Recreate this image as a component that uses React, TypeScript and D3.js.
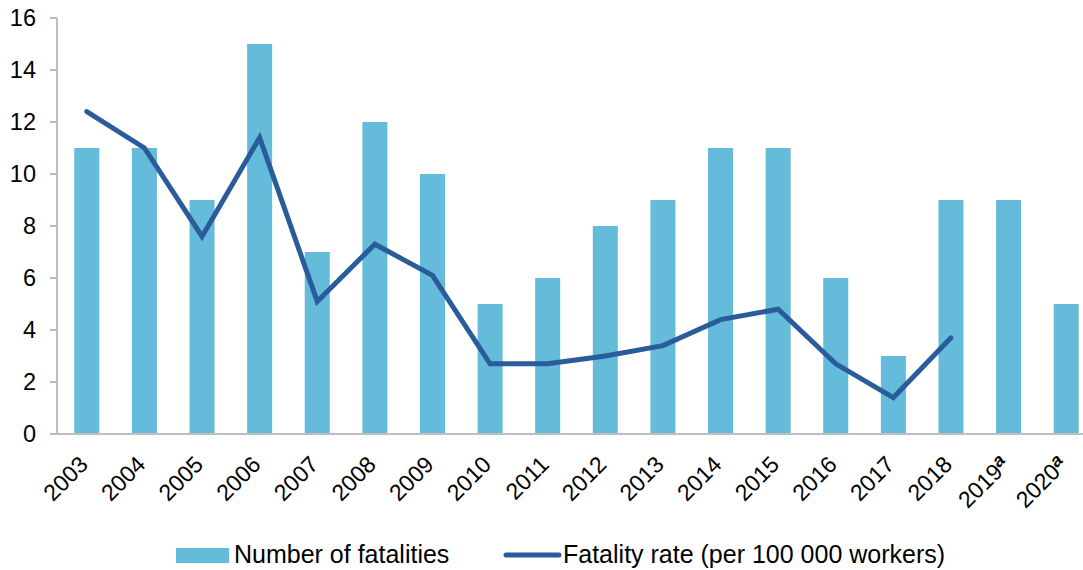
import React from "react";
import * as d3 from "d3";

const years: string[] = ["2003","2004","2005","2006","2007","2008","2009","2010","2011","2012","2013","2014","2015","2016","2017","2018","2019","2020"];
const yearSuffix: string[] = ["","","","","","","","","","","","","","","","","a","a"];
const fatalities: number[] = [11, 11, 9, 15, 7, 12, 10, 5, 6, 8, 9, 11, 11, 6, 3, 9, 9, 5];
const rate: (number | null)[] = [12.4, 11.0, 7.6, 11.4, 5.1, 7.3, 6.1, 2.7, 2.7, 3.0, 3.4, 4.4, 4.8, 2.7, 1.4, 3.7, null, null];
const yTicks: number[] = [0, 2, 4, 6, 8, 10, 12, 14, 16];
const legendLabels: string[] = ["Number of fatalities", "Fatality rate (per 100 000 workers)"];

const W = 1083;
const H = 570;
const BAR = "#64BBDA";
const LINE = "#2A5B9A";
const AXIS = "#BFBFBF";
const FONT = "'Liberation Sans', Arial, sans-serif";

export default function App() {
  const x = d3.scaleBand<string>().domain(years).range([58, 1095]).paddingInner(0.566).paddingOuter(0.283);
  const y = d3.scaleLinear().domain([0, 16]).range([434, 18]);
  const cx = (yr: string) => (x(yr) as number) + x.bandwidth() / 2;

  const pts = years.map((yr, i) => ({ yr, v: rate[i] })).filter((d) => d.v !== null) as { yr: string; v: number }[];
  const line = d3.line<{ yr: string; v: number }>().x((d) => cx(d.yr)).y((d) => y(d.v));

  return (
    <svg width={W} height={H} style={{ position: "absolute", left: 0, top: 0, background: "#fff" }} fontFamily={FONT}>
      {years.map((yr, i) => (
        <rect key={yr} x={x(yr)} y={y(fatalities[i])} width={x.bandwidth()} height={y(0) - y(fatalities[i])} fill={BAR} />
      ))}
      <line x1={57} x2={57} y1={y(16)} y2={y(0)} stroke={AXIS} strokeWidth={2} />
      <line x1={50} x2={W} y1={y(0)} y2={y(0)} stroke={AXIS} strokeWidth={2} />
      {yTicks.map((t) => (
        <g key={t}>
          <line x1={50} x2={57} y1={y(t)} y2={y(t)} stroke={AXIS} strokeWidth={2} />
          <text x={36} y={y(t)} dy="0.36em" textAnchor="end" fontSize={23.5} fill="#000">{t}</text>
        </g>
      ))}
      <path d={line(pts) || ""} fill="none" stroke={LINE} strokeWidth={5} strokeLinejoin="miter" strokeLinecap="round" />
      {years.map((yr, i) => (
        <text key={yr} transform={`translate(${cx(yr) + 2.5},${466}) rotate(-45)`} textAnchor="end" fontSize={23} fill="#000">
          {yr}
          {yearSuffix[i] ? (
            <tspan fontSize={18} fontWeight="bold" fontStyle="italic" dy={-7}>{yearSuffix[i]}</tspan>
          ) : null}
        </text>
      ))}
      <rect x={176} y={548} width={53} height={15} fill={BAR} />
      <text x={234} y={563} fontSize={25} fill="#000">{legendLabels[0]}</text>
      <line x1={506} x2={559} y1={555} y2={555} stroke={LINE} strokeWidth={5} strokeLinecap="round" />
      <text x={563} y={563} fontSize={25} fill="#000">{legendLabels[1]}</text>
    </svg>
  );
}
